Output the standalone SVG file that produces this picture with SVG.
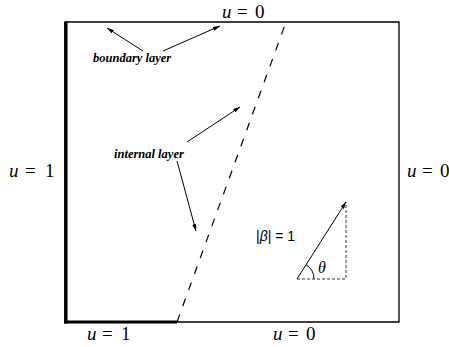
<svg xmlns="http://www.w3.org/2000/svg" width="449" height="347" viewBox="0 0 449 347">
<defs>
<style>
.thin{stroke:#000;stroke-width:1.3;fill:none}
.thick{stroke:#000;stroke-width:3.5;fill:none}
.ln{stroke:#000;stroke-width:1;fill:none}
.dash{stroke:#000;stroke-width:1.2;fill:none;stroke-dasharray:8 9}
.sdash{stroke:#000;stroke-width:0.8;fill:none;stroke-dasharray:3 2}
</style>
<marker id="ah" viewBox="0 0 10 6" refX="10" refY="3" markerWidth="7" markerHeight="4.2" orient="auto" markerUnits="userSpaceOnUse">
<path d="M0,0 L10,3 L0,6 z" fill="#000"/>
</marker>
</defs>
<rect width="449" height="347" fill="#fff"/>
<g id="domain">
<path class="thin" d="M65,22 H399 V322 H177"/>
<path class="thick" d="M65.8,21.4 V323.5"/>
<path class="thick" d="M64,322 H177" style="stroke-width:3"/>
</g>
<g id="connectors">
<path class="dash" d="M177,322 L286,22"/>
<path class="ln" d="M143,51 L107,28" marker-end="url(#ah)"/>
<path class="ln" d="M163,51 L220,26" marker-end="url(#ah)"/>
<path class="ln" d="M187,142 L240,107" marker-end="url(#ah)"/>
<path class="ln" d="M177,161 L196,231" marker-end="url(#ah)"/>
</g>
<g id="beta">
<path class="ln" d="M297,279 L346,202" marker-end="url(#ah)"/>
<path class="sdash" d="M297,279 H346 V202"/>
<path class="ln" d="M314,279 A17,17 0 0 0 306.1,264.7"/>
<text x="318" y="273" font-family="Liberation Serif, serif" font-style="italic" font-size="16">θ</text>
<text x="256" y="241" font-family="Liberation Sans, sans-serif" font-size="14">|<tspan font-style="italic">β</tspan>| = 1</text>
</g>
<g id="labels" font-family="Liberation Serif, serif" font-size="19">
<text x="222" y="18"><tspan font-style="italic">u</tspan><tspan x="237">=</tspan><tspan x="255">0</tspan></text>
<text x="9" y="177"><tspan font-style="italic">u</tspan><tspan x="25">=</tspan><tspan x="45">1</tspan></text>
<text x="407" y="177"><tspan font-style="italic">u</tspan><tspan x="422">=</tspan><tspan x="440">0</tspan></text>
<text x="87" y="340"><tspan font-style="italic">u</tspan><tspan x="102">=</tspan><tspan x="121">1</tspan></text>
<text x="273" y="340"><tspan font-style="italic">u</tspan><tspan x="288">=</tspan><tspan x="306">0</tspan></text>
<text x="93" y="62" font-size="12.5" font-style="italic" font-weight="bold">boundary layer</text>
<text x="114" y="158" font-size="12.5" font-style="italic" font-weight="bold">internal layer</text>
</g>
</svg>
